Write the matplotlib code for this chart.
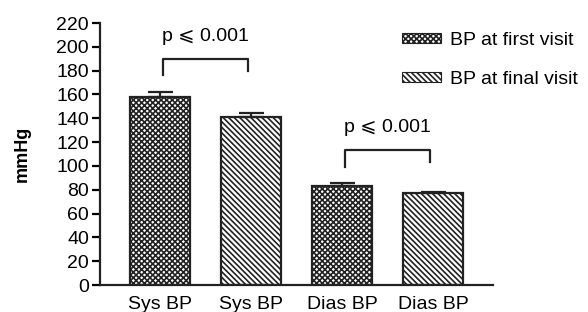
import matplotlib
matplotlib.use('Agg')
import matplotlib.pyplot as plt
import matplotlib.patches as patches

# datos
categorias = ['Sys BP', 'Sys BP', 'Dias BP', 'Dias BP']
valores = [158, 141, 83.5, 77]
errores = [4, 3.5, 2.5, 1.5]
grupos = ['BP at first visit', 'BP at final visit', 'BP at first visit', 'BP at final visit']
etiquetas_leyenda = ['BP at first visit', 'BP at final visit']
pares = [(0, 1), (2, 3)]
alturas_corchete = [190, 113]
alturas_texto = [209, 132]
texto_p = 'p \u2a7d 0.001'

plt.rcParams['font.family'] = ['Liberation Sans', 'DejaVu Sans']
plt.rcParams['font.size'] = 14
plt.rcParams['hatch.linewidth'] = 1.2
plt.rcParams['hatch.color'] = '#222222'

tramas = {'BP at first visit': 'xxxxxx', 'BP at final visit': '\\\\\\\\\\\\'}
negro = '#222222'

fig = plt.figure(figsize=(5.88, 3.12), dpi=100)
ax = fig.add_axes([100/588., 1 - 285/312., 393/588., 262/312.])

x = list(range(len(valores)))
for i in x:
    ax.bar(i, valores[i], width=0.66, color='white', edgecolor=negro,
           linewidth=1.6, hatch=tramas[grupos[i]], zorder=2)
ax.errorbar(x, valores, yerr=[[0]*len(errores), errores], fmt='none',
            ecolor=negro, elinewidth=1.6, capsize=9, capthick=1.6, zorder=3)

# corchetes de significancia
for (a, b), h, ht in zip(pares, alturas_corchete, alturas_texto):
    ax.plot([a + 0.03, a + 0.03, b - 0.03, b - 0.03], [h - 14, h, h, h - 10],
            color=negro, linewidth=1.6, clip_on=False)
    ax.text((a + b) / 2., ht, texto_p, ha='center', va='center')

ax.set_xlim(-0.66, 3.66)
ax.set_ylim(0, 220)
ax.set_yticks(range(0, 221, 20))
ax.set_xticks(x)
ax.set_xticklabels(categorias)
ax.tick_params(axis='x', length=0, pad=8)
ax.tick_params(axis='y', length=6, width=1.6, pad=2)
for s in ['top', 'right']:
    ax.spines[s].set_visible(False)
for s in ['left', 'bottom']:
    ax.spines[s].set_linewidth(1.6)
    ax.spines[s].set_color(negro)
ax.set_ylabel('mmHg', fontweight='bold', fontsize=13, labelpad=18)

handles = [patches.Patch(facecolor='white', edgecolor=negro, linewidth=0.8,
                         hatch=tramas[g]) for g in etiquetas_leyenda]
fig.legend(handles, etiquetas_leyenda, loc='upper left',
           bbox_to_anchor=(392/588., 1 - 22/312.), frameon=False,
           borderpad=0, handlelength=2.0, handleheight=0.45,
           handletextpad=0.5, labelspacing=1.15)

fig.savefig('out.png', dpi=100)
